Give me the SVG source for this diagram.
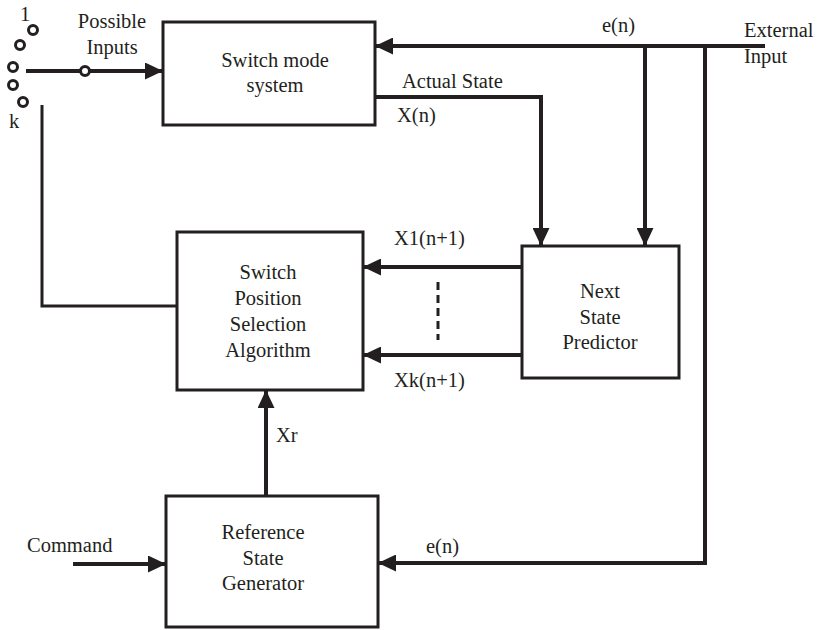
<svg xmlns="http://www.w3.org/2000/svg" width="821" height="630" viewBox="0 0 821 630">
<style>
text{font-family:"Liberation Serif","DejaVu Serif",serif;font-size:20.5px;fill:#231f20}
.c{text-anchor:middle}
.box{fill:#fff;stroke:#231f20;stroke-width:3}
.w{fill:none;stroke:#231f20;stroke-width:4}
.t{fill:none;stroke:#231f20;stroke-width:3}
.d{fill:none;stroke:#231f20;stroke-width:3;stroke-dasharray:8 5}
.sw{fill:#fff;stroke:#231f20;stroke-width:3}
</style>
<defs>
<marker id="ah" markerUnits="userSpaceOnUse" markerWidth="18" markerHeight="17" refX="18" refY="8.5" orient="auto">
<path d="M0,0 L18,8.5 L0,17 z" fill="#231f20"/>
</marker>
</defs>
<g id="connectors">
<polyline class="w" points="26,71 163,71" marker-end="url(#ah)"/>
<polyline class="w" points="765,46 375,46" marker-end="url(#ah)"/>
<polyline class="w" points="645,46 645,246" marker-end="url(#ah)"/>
<polyline class="w" points="375,97 541,97 541,246" marker-end="url(#ah)"/>
<polyline class="w" points="705,46 705,563 378,563" marker-end="url(#ah)"/>
<polyline class="w" points="522,267 363,267" marker-end="url(#ah)"/>
<polyline class="w" points="522,355 363,355" marker-end="url(#ah)"/>
<polyline class="d" points="438,282 438,340"/>
<polyline class="w" points="266,496 266,390" marker-end="url(#ah)"/>
<polyline class="w" points="73,564 166,564" marker-end="url(#ah)"/>
<polyline class="t" points="42,105 42,306 177,306"/>
</g>
<g id="switch">
<circle class="sw" cx="33" cy="30" r="4.5"/>
<circle class="sw" cx="20" cy="45" r="4.5"/>
<circle class="sw" cx="13" cy="67" r="4.5"/>
<circle class="sw" cx="13" cy="85" r="4.5"/>
<circle class="sw" cx="23" cy="102" r="4.5"/>
<circle class="sw" cx="85" cy="71" r="4.5"/>
<text x="20" y="21">1</text>
<text x="9" y="128">k</text>
<text class="c" x="112" y="28">Possible</text>
<text class="c" x="112" y="54">Inputs</text>
</g>
<g id="switch-mode-system">
<rect class="box" x="163" y="22" width="212" height="103"/>
<text class="c" x="275" y="67">Switch mode</text>
<text class="c" x="275" y="92">system</text>
</g>
<g id="switch-position-selection">
<rect class="box" x="177" y="232" width="186" height="158"/>
<text class="c" x="268" y="279">Switch</text>
<text class="c" x="268" y="305">Position</text>
<text class="c" x="268" y="331">Selection</text>
<text class="c" x="268" y="357">Algorithm</text>
</g>
<g id="next-state-predictor">
<rect class="box" x="522" y="246" width="157" height="132"/>
<text class="c" x="600" y="298">Next</text>
<text class="c" x="600" y="324">State</text>
<text class="c" x="600" y="349">Predictor</text>
</g>
<g id="reference-state-generator">
<rect class="box" x="166" y="496" width="212" height="131"/>
<text class="c" x="263" y="539">Reference</text>
<text class="c" x="263" y="565">State</text>
<text class="c" x="263" y="590">Generator</text>
</g>
<g id="labels">
<text x="602" y="32">e(n)</text>
<text x="744" y="37">External</text>
<text x="744" y="63">Input</text>
<text x="402" y="88">Actual State</text>
<text x="397" y="122">X(n)</text>
<text x="394" y="245">X1(n+1)</text>
<text x="394" y="387">Xk(n+1)</text>
<text x="276" y="442">Xr</text>
<text x="426" y="553">e(n)</text>
<text x="27" y="552">Command</text>
</g>
</svg>
